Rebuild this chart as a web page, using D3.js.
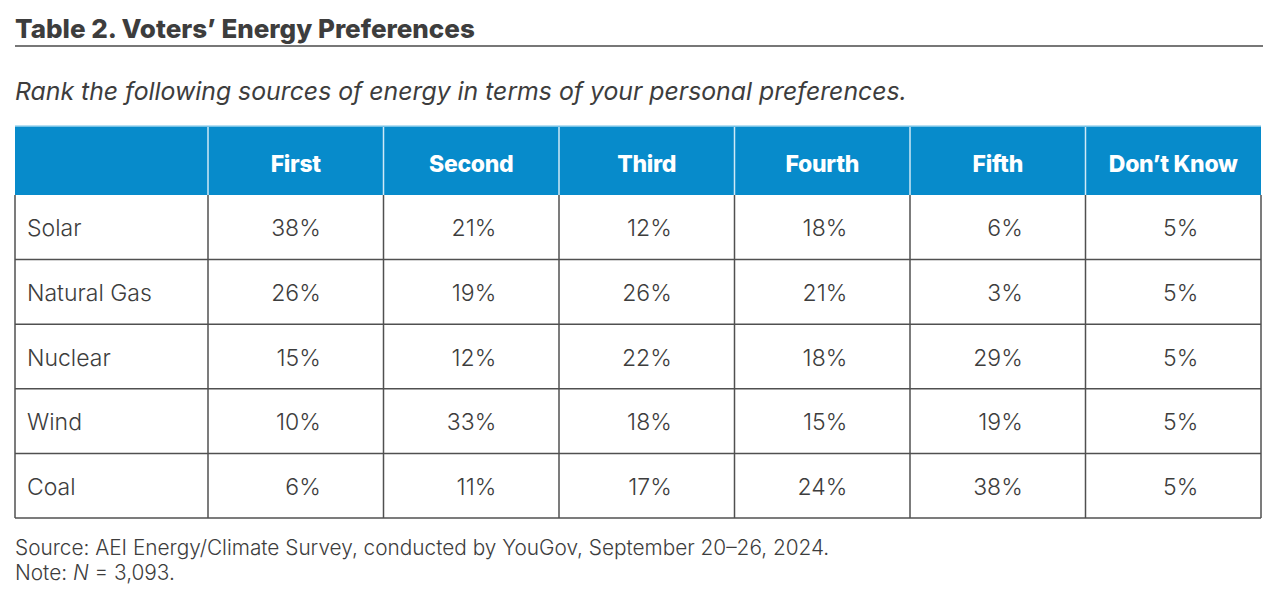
<!DOCTYPE html>
<html>
<head>
<meta charset="utf-8">
<script src="https://cdn.jsdelivr.net/npm/d3@7"></script>
<style>
  body { margin: 0; background: #fff; }
  text { font-family: Inter, Lato, sans-serif; fill: #3d3d3d; }
</style>
</head>
<body>
<svg width="1278" height="600"></svg>
<script>
const title    = "Table 2. Voters\u2019 Energy Preferences";
const subtitle = "Rank the following sources of energy in terms of your personal preferences.";
const columns  = ["First", "Second", "Third", "Fourth", "Fifth", "Don\u2019t Know"];
const sources  = ["Solar", "Natural Gas", "Nuclear", "Wind", "Coal"];
const solar      = [38, 21, 12, 18, 6, 5];
const naturalGas = [26, 19, 26, 21, 3, 5];
const nuclear    = [15, 12, 22, 18, 29, 5];
const wind       = [10, 33, 18, 15, 19, 5];
const coal       = [6, 11, 17, 24, 38, 5];
const sourceNote = "Source: AEI Energy/Climate Survey, conducted by YouGov, September 20\u201326, 2024.";

const values = [solar, naturalGas, nuclear, wind, coal];

const svg = d3.select("svg");

const tLeft = 15, tRight = 1261;
const labelWidth = 193;
const tTop = 126, headerHeight = 69, tBottom = 518;

const x = d3.scaleBand().domain(columns).range([tLeft + labelWidth, tRight]);
const y = d3.scaleBand().domain(sources).range([tTop + headerHeight, tBottom]);

// title and rule
svg.append("text")
  .attr("x", tLeft).attr("y", 38)
  .style("font-size", "26px").style("font-weight", 800)
  .text(title);

svg.append("line")
  .attr("x1", tLeft).attr("x2", 1263)
  .attr("y1", 46).attr("y2", 46)
  .attr("stroke", "#4a4a4a").attr("stroke-width", 1.5);

svg.append("text")
  .attr("x", tLeft).attr("y", 100)
  .style("font-size", "24.8px").style("font-style", "italic")
  .text(subtitle);

// header
svg.append("rect")
  .attr("x", tLeft).attr("y", tTop)
  .attr("width", tRight - tLeft).attr("height", headerHeight)
  .attr("fill", "#078bcb");

svg.append("line")
  .attr("x1", tLeft).attr("x2", tRight)
  .attr("y1", tTop).attr("y2", tTop)
  .attr("stroke", "#9fd4ee").attr("stroke-width", 1.5);

svg.selectAll("line.hsep")
  .data(columns)
  .enter()
  .append("line")
  .attr("class", "hsep")
  .attr("x1", d => x(d)).attr("x2", d => x(d))
  .attr("y1", tTop + 1).attr("y2", tTop + headerHeight)
  .attr("stroke", "#cfe9f6").attr("stroke-width", 1.5);

svg.selectAll("text.head")
  .data(columns)
  .enter()
  .append("text")
  .attr("class", "head")
  .attr("x", d => x(d) + x.bandwidth() / 2)
  .attr("y", tTop + 46)
  .attr("text-anchor", "middle")
  .style("font-size", "23px").style("font-weight", 800)
  .style("letter-spacing", "-0.3px")
  .style("fill", "#fff")
  .text(d => d);

// body grid
const grid = svg.append("g")
  .attr("stroke", "#505050").attr("stroke-width", 1.5);

grid.selectAll("line.row")
  .data(sources.slice(1).concat([null]))
  .enter()
  .append("line")
  .attr("class", "row")
  .attr("x1", tLeft).attr("x2", tRight)
  .attr("y1", d => d ? y(d) : tBottom)
  .attr("y2", d => d ? y(d) : tBottom);

grid.selectAll("line.col")
  .data([tLeft].concat(columns.map(c => x(c)), [tRight]))
  .enter()
  .append("line")
  .attr("class", "col")
  .attr("x1", d => d).attr("x2", d => d)
  .attr("y1", tTop + headerHeight).attr("y2", tBottom);

// rows
const rows = svg.selectAll("g.row")
  .data(sources.map((s, i) => ({name: s, values: values[i]})))
  .enter()
  .append("g")
  .attr("class", "row")
  .attr("transform", d => `translate(0,${y(d.name) + y.bandwidth() / 2 + 9})`);

rows.append("text")
  .attr("x", tLeft + 12)
  .style("font-size", "23px").style("font-weight", 300)
  .text(d => d.name);

rows.selectAll("text.val")
  .data(d => d.values)
  .enter()
  .append("text")
  .attr("class", "val")
  .attr("x", (d, i) => x(columns[i]) + x.bandwidth() / 2 + 25)
  .attr("text-anchor", "end")
  .style("font-size", "23px").style("font-weight", 300)
  .text(d => d + "%");

// footer
svg.append("text")
  .attr("x", tLeft).attr("y", 555)
  .style("font-size", "20.8px").style("font-weight", 300)
  .text(sourceNote);

const note = svg.append("text")
  .attr("x", tLeft).attr("y", 580)
  .style("font-size", "20.8px").style("font-weight", 300);
note.append("tspan").text("Note: ");
note.append("tspan").style("font-style", "italic").text("N");
note.append("tspan").text(" = 3,093.");
</script>
</body>
</html>
